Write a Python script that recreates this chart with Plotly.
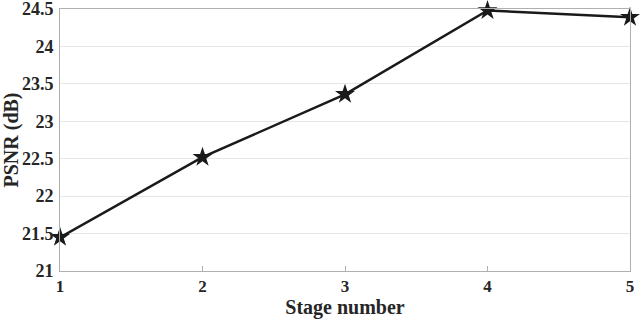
import plotly.graph_objects as go

# Data
stages = [1, 2, 3, 4, 5]
psnr = [21.45, 22.52, 23.36, 24.48, 24.39]
y_ticks = [21, 21.5, 22, 22.5, 23, 23.5, 24, 24.5]
y_labels = ["21", "21.5", "22", "22.5", "23", "23.5", "24", "24.5"]

font_main = "Liberation Serif, Times New Roman, serif"
txt = "#262626"

fig = go.Figure()
fig.add_trace(
    go.Scatter(
        x=stages, y=psnr, mode="lines+markers",
        line=dict(color="#1a1a1a", width=2.5),
        marker=dict(symbol="star", size=15, color="#1a1a1a"),
        cliponaxis=False,
    )
)

fig.update_layout(
    width=640, height=323,
    margin=dict(l=60, r=10, t=9, b=52, autoexpand=False),
    plot_bgcolor="white", paper_bgcolor="white",
    showlegend=False,
    font=dict(family=font_main, size=17, color=txt),
)

fig.update_xaxes(
    range=[1, 5], tickvals=stages, ticktext=["<b>%d</b>" % s for s in stages],
    showgrid=False, zeroline=False, automargin=False, ticklabeloverflow="allow",
    showline=True, linecolor="#b0b0b0", linewidth=1, mirror=True,
    ticks="inside", ticklen=5, tickcolor="#b0b0b0",
    tickfont=dict(family=font_main, size=17, color=txt),
    title=dict(text="<b>Stage number</b>", standoff=2,
               font=dict(family=font_main, size=20, color=txt)),
)
fig.update_yaxes(
    range=[21, 24.5], tickvals=y_ticks, ticktext=["<b>" + t + "</b>" for t in y_labels],
    showgrid=True, gridcolor="#e6e6e6", gridwidth=1, zeroline=False, automargin=False,
    ticklabeloverflow="allow",
    showline=True, linecolor="#b0b0b0", linewidth=1, mirror=True,
    ticks="", ticklabelstandoff=2, tickfont=dict(family=font_main, size=18, color=txt),
    title=dict(text="<b>PSNR (dB)</b>", standoff=2,
               font=dict(family=font_main, size=20, color=txt)),
)

fig.write_html("out.html", config={"displayModeBar": False},
               post_script="document.body.style.margin='0';")
